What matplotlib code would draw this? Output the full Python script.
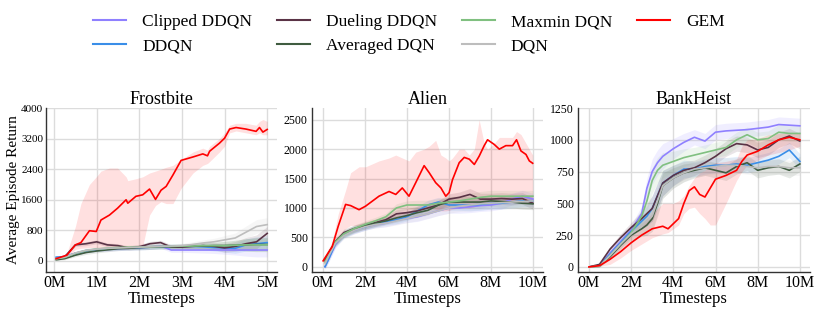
import numpy as np
import matplotlib.pyplot as plt
from matplotlib.lines import Line2D

plt.rcParams['font.family'] = ['Liberation Serif', 'DejaVu Serif']

# Frostbite (x in millions of timesteps)
frost_x = [0.05, 0.25, 0.5, 0.75, 1.0, 1.25, 1.5, 1.75, 2.0, 2.25, 2.5, 2.75, 3.0,
           3.25, 3.5, 3.75, 4.0, 4.25, 4.5, 4.75, 5.0]
frost_clipped = [80, 120, 200, 260, 290, 300, 320, 330, 350, 360, 390, 285, 285, 285, 285,
                 285, 285, 285, 285, 285, 285]
frost_ddqn = [100, 110, 200, 270, 300, 320, 330, 340, 350, 360, 370, 380, 380, 380, 370,
              350, 340, 330, 420, 450, 480]
frost_dueling = [60, 110, 420, 450, 500, 420, 400, 340, 370, 450, 480, 360, 360, 380, 400,
                 380, 340, 380, 450, 500, 720]
frost_averaged = [30, 60, 150, 220, 260, 290, 320, 330, 350, 360, 370, 370, 380, 390, 390,
                  400, 400, 410, 420, 430, 430]
frost_maxmin = [60, 90, 200, 270, 310, 330, 350, 360, 360, 370, 380, 380, 390, 390, 400,
                400, 400, 410, 420, 420, 420]
frost_dqn = [60, 100, 210, 280, 310, 330, 340, 350, 360, 370, 380, 390, 400, 430, 470,
             500, 550, 600, 750, 900, 950]
frost_spread = [20, 30, 40, 50, 50, 50, 50, 50, 60, 60, 60, 60, 60, 70, 80, 90, 110,
                130, 160, 180, 180]

frost_gem_x = [0.05, 0.3, 0.5, 0.63, 0.83, 0.99, 1.1, 1.3, 1.49, 1.69, 1.73, 1.92, 2.08,
               2.24, 2.38, 2.51, 2.63, 2.79, 2.98, 3.26, 3.49, 3.6, 3.65, 3.88, 4.0, 4.12,
               4.27, 4.5, 4.74, 4.82, 4.9, 5.0]
frost_gem = [60, 150, 420, 480, 790, 770, 1070, 1200, 1380, 1600, 1510, 1690, 1730, 1880,
             1610, 1850, 1950, 2250, 2630, 2720, 2800, 2750, 2870, 3080, 3210, 3450, 3490,
             3450, 3390, 3490, 3370, 3440]
frost_gem_hi = [80, 200, 900, 1500, 2000, 2200, 2350, 2430, 2430, 2200, 2100, 2150, 2200,
                2300, 2350, 2400, 2450, 2500, 2650, 2850, 2950, 2900, 3000, 3200, 3350,
                3550, 3600, 3600, 3550, 3650, 3700, 3650]
frost_gem_lo = [40, 100, 300, 330, 350, 350, 350, 350, 350, 350, 350, 350, 380, 1200, 1450,
                1550, 1500, 1500, 1900, 2300, 2500, 2550, 2600, 2850, 3000, 3350, 3400,
                3350, 3300, 3350, 3300, 3300]

# Alien
alien_x = [0.1, 0.3, 0.6, 1, 1.5, 2, 2.5, 3, 3.5, 4, 4.5, 5, 5.5, 6, 6.5, 7, 7.5, 8, 8.5,
           9, 9.5, 10]
alien_clipped = [0, 150, 380, 550, 620, 680, 720, 740, 790, 820, 850, 900, 950, 1000, 1000,
                 1020, 1040, 1050, 1080, 1150, 1200, 1150]
alien_ddqn = [0, 150, 400, 550, 630, 680, 730, 770, 800, 850, 950, 1050, 1100, 1050, 1050,
              1050, 1060, 1080, 1080, 1100, 1120, 1120]
alien_dueling = [100, 250, 420, 580, 650, 700, 750, 800, 900, 920, 950, 1000, 1050, 1150,
                 1180, 1230, 1150, 1150, 1160, 1150, 1160, 1080]
alien_averaged = [120, 250, 430, 560, 640, 700, 740, 780, 830, 870, 920, 960, 1050, 1100,
                  1100, 1100, 1100, 1120, 1110, 1100, 1080, 1070]
alien_maxmin = [80, 220, 420, 560, 650, 720, 780, 850, 1000, 1050, 1050, 1050, 1080, 1100,
                1120, 1150, 1180, 1200, 1200, 1200, 1200, 1200]
alien_dqn = [50, 200, 400, 530, 620, 680, 720, 740, 780, 820, 860, 900, 950, 1000, 1030,
             1050, 1070, 1080, 1090, 1100, 1110, 1120]
alien_spread = [40, 50, 60, 60, 60, 60, 60, 60, 70, 70, 80, 80, 80, 90, 90, 100, 100, 100,
                100, 100, 100, 100]

alien_gem_x = [0.01, 0.44, 0.73, 1.08, 1.32, 1.72, 2.03, 2.67, 3.15, 3.47, 3.78, 4.1, 4.42,
               4.82, 5.06, 5.37, 5.62, 5.85, 6.01, 6.17, 6.49, 6.73, 6.97, 7.21, 7.44, 7.68,
               7.84, 8.16, 8.4, 8.71, 9.03, 9.22, 9.43, 9.67, 9.83, 9.99]
alien_gem = [100, 340, 690, 1060, 1040, 970, 1030, 1200, 1280, 1230, 1340, 1200, 1430, 1720,
             1600, 1430, 1340, 1200, 1260, 1480, 1770, 1860, 1830, 1740, 1880, 2060, 2160,
             2080, 2000, 2060, 2060, 2160, 1970, 1910, 1800, 1760]
alien_gem_hi = [150, 420, 900, 1300, 1600, 1700, 1700, 1800, 1850, 1900, 1850, 1800, 1950,
                2000, 2050, 2150, 1900, 1850, 1800, 1850, 2000, 2000, 1900, 2000, 2500, 2100,
                2000, 2100, 2200, 2200, 2200, 2300, 2250, 2100, 2000, 1900]
alien_gem_lo = [50, 300, 500, 650, 700, 700, 700, 750, 800, 850, 880, 900, 950, 1000, 1000,
                980, 950, 950, 960, 980, 1000, 1000, 1000, 1020, 1040, 1050, 1060, 1070, 1080,
                1090, 1100, 1100, 1100, 1100, 1100, 1100]

# BankHeist
bank_x = [0, 0.5, 1, 1.5, 2, 2.5, 2.75, 3, 3.25, 3.5, 4, 4.5, 5, 5.5, 6, 6.5, 7, 7.5, 8,
          8.5, 9, 9.5, 10]
bank_clipped = [0, 10, 110, 200, 290, 420, 620, 750, 820, 870, 930, 980, 1020, 990, 1060,
                1070, 1075, 1080, 1090, 1100, 1120, 1115, 1110]
bank_ddqn = [0, 10, 100, 190, 280, 360, 400, 460, 560, 660, 720, 770, 770, 790, 800, 800,
             810, 800, 820, 840, 870, 920, 830]
bank_dueling = [0, 20, 140, 230, 310, 380, 420, 460, 560, 660, 720, 760, 780, 820, 870, 930,
                970, 960, 920, 940, 1000, 1030, 990]
bank_averaged = [0, 5, 80, 170, 250, 300, 330, 380, 500, 640, 700, 740, 760, 780, 760, 740,
                 790, 820, 760, 780, 790, 760, 810]
bank_maxmin = [0, 5, 90, 180, 270, 400, 520, 680, 760, 800, 830, 860, 880, 900, 920, 940,
               1000, 1040, 1000, 1010, 1060, 1050, 1050]
bank_dqn = [0, 5, 90, 180, 260, 320, 360, 400, 520, 640, 700, 740, 770, 780, 790, 800, 800,
            790, 780, 790, 790, 780, 780]
bank_spread = [0, 5, 20, 30, 40, 60, 80, 100, 100, 100, 80, 70, 60, 60, 60, 60, 60, 60, 60,
               60, 60, 60, 60]

bank_gem_x = [0, 0.5, 1, 1.5, 2, 2.5, 3, 3.5, 3.75, 4, 4.25, 4.5, 4.75, 5, 5.25, 5.5, 5.75,
              6, 6.5, 7, 7.25, 7.5, 8, 8.5, 9, 9.5, 10]
bank_gem = [0, 10, 60, 120, 190, 250, 300, 320, 300, 340, 380, 500, 600, 630, 570, 550, 620,
            690, 720, 760, 830, 880, 910, 960, 1000, 1020, 1000]
bank_gem_hi = [0, 15, 100, 180, 260, 340, 420, 500, 500, 500, 520, 560, 640, 700, 740, 760,
               800, 820, 830, 850, 950, 1000, 1010, 1040, 1050, 1050, 1050]
bank_gem_lo = [0, 5, 20, 70, 130, 180, 230, 260, 270, 300, 330, 420, 460, 470, 420, 380, 330,
               330, 500, 680, 750, 800, 840, 880, 900, 920, 950]

names = ['Clipped DDQN', 'DDQN', 'Dueling DDQN', 'Averaged DQN', 'Maxmin DQN', 'DQN', 'GEM']
colors = ['#8f80ff', '#3a8ee8', '#5a3346', '#3f5c40', '#80c080', '#bdbdbd', '#ff0000']

fig = plt.figure(figsize=(8.18, 3.09), dpi=100)
ax_pos = [[0.0562, 0.1197, 0.2824, 0.5307],
          [0.3814, 0.1197, 0.2824, 0.5307],
          [0.7066, 0.1197, 0.2836, 0.5307]]

games = [
    ('Frostbite', frost_x, [frost_clipped, frost_ddqn, frost_dueling, frost_averaged,
                            frost_maxmin, frost_dqn], frost_spread,
     frost_gem_x, frost_gem, frost_gem_lo, frost_gem_hi),
    ('Alien', alien_x, [alien_clipped, alien_ddqn, alien_dueling, alien_averaged,
                        alien_maxmin, alien_dqn], alien_spread,
     alien_gem_x, alien_gem, alien_gem_lo, alien_gem_hi),
    ('BankHeist', bank_x, [bank_clipped, bank_ddqn, bank_dueling, bank_averaged,
                           bank_maxmin, bank_dqn], bank_spread,
     bank_gem_x, bank_gem, bank_gem_lo, bank_gem_hi),
]

for i, (title, x, series, spread, gx, gy, glo, ghi) in enumerate(games):
    ax = fig.add_axes(ax_pos[i])
    x = np.array(x)
    sp = np.array(spread)
    for s, c in zip(series, colors[:6]):
        s = np.array(s)
        ax.fill_between(x, s - sp, s + sp, color=c, alpha=0.13, linewidth=0)
    ax.fill_between(gx, glo, ghi, color='#ff0000', alpha=0.12, linewidth=0)
    for s, c in zip(series, colors[:6]):
        ax.plot(x, s, color=c, linewidth=1.2)
    ax.plot(gx, gy, color='#ff0000', linewidth=1.2)

    ax.set_title(title, fontsize=13, pad=3)
    ax.set_xlabel('Timesteps', fontsize=12, labelpad=0)
    ax.grid(True, color='#dcdcdc', linewidth=1.0)
    ax.set_axisbelow(True)
    for sp_name in ['top', 'right']:
        ax.spines[sp_name].set_visible(False)
    for sp_name in ['left', 'bottom']:
        ax.spines[sp_name].set_color('#333333')
        ax.spines[sp_name].set_linewidth(1.0)
    ax.tick_params(axis='x', length=0, labelsize=11.5, pad=2)
    ax.tick_params(axis='y', length=0, labelsize=8.5, pad=3)

    if i == 0:
        ax.set_xlim(-0.19, 5.23)
        ax.set_xticks([0, 1, 2, 3, 4, 5])
        ax.set_xticklabels(['0M', '1M', '2M', '3M', '4M', '5M'])
        ax.set_ylim(-290, 4000)
        ax.set_yticks([0, 800, 1600, 2400, 3200, 4000])
        ax.tick_params(axis='y', labelsize=8, pad=2)
        ax.set_ylabel('Average Episode Return', fontsize=11, labelpad=1)
    else:
        ax.set_xlim(-0.52, 10.48)
        ax.set_xticks([0, 2, 4, 6, 8, 10])
        ax.set_xticklabels(['0M', '2M', '4M', '6M', '8M', '10M'])
        if i == 1:
            ax.set_ylim(-90, 2700)
            ax.set_yticks([0, 500, 1000, 1500, 2000, 2500])
        else:
            ax.set_ylim(-40, 1250)
            ax.set_yticks([0, 250, 500, 750, 1000, 1250])

handles = [Line2D([0], [0], color=c, linewidth=1.5) for c in colors]
fig.legend(handles, names, loc='upper center', bbox_to_anchor=(0.5, 1.005), ncol=4,
           frameon=False, fontsize=12.5, handlelength=1.9, columnspacing=1.45,
           handletextpad=0.9, labelspacing=0.45)

plt.savefig('out.png', dpi=100)
